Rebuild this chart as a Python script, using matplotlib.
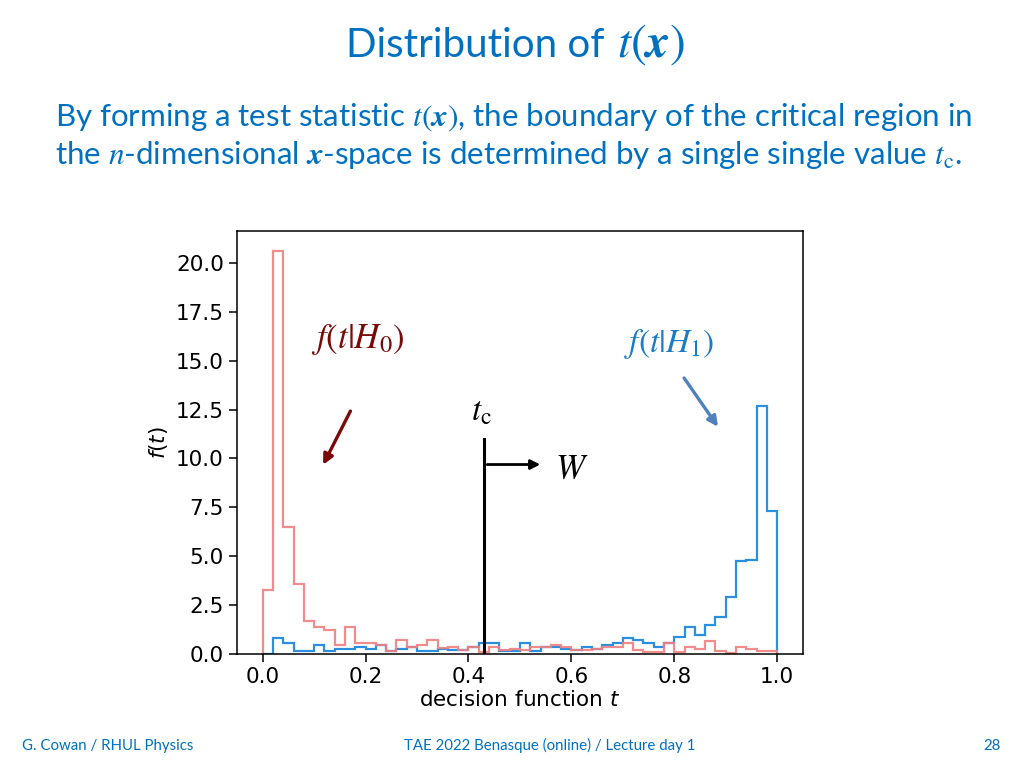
import numpy as np
import matplotlib.pyplot as plt

# histogram contents, 50 bins of width 0.02 between 0 and 1
edges = np.linspace(0.0, 1.0, 51)

f_h0 = [3.25, 20.6, 6.5, 3.6, 1.7, 1.4, 1.25, 0.45, 1.4, 0.55,
        0.55, 0.45, 0.15, 0.7, 0.35, 0.45, 0.7, 0.3, 0.35, 0.2,
        0.37, 0.1, 0.37, 0.2, 0.27, 0.2, 0.34, 0.34, 0.44, 0.34,
        0.2, 0.2, 0.27, 0.34, 0.34, 0.54, 0.2, 0.1, 0.1, 0.54,
        0.12, 0.37, 0.28, 0.68, 0.17, 0.05, 0.37, 0.25, 0.18, 0.18]

f_h1 = [0.0, 0.83, 0.54, 0.17, 0.17, 0.46, 0.17, 0.25, 0.25, 0.37,
        0.25, 0.46, 0.17, 0.25, 0.34, 0.17, 0.17, 0.25, 0.2, 0.2,
        0.34, 0.54, 0.54, 0.17, 0.17, 0.54, 0.17, 0.34, 0.34, 0.27,
        0.2, 0.34, 0.27, 0.44, 0.54, 0.83, 0.71, 0.58, 0.37, 0.54,
        0.85, 1.36, 0.97, 1.48, 1.87, 2.92, 4.74, 4.83, 12.67, 7.3]

t_cut = 0.431

blue = '#0070C0'
sans = ['Lato', 'DejaVu Sans']

fig = plt.figure(figsize=(10.24, 7.68), dpi=100)

# slide title and text
fig.text(0.590, 0.926, 'Distribution of', ha='right', va='baseline',
         fontsize=29, color=blue, family=sans)
fig.text(0.603, 0.926, r'$t(\boldsymbol{x})$', ha='left', va='baseline',
         fontsize=34, color=blue, math_fontfamily='stix')
fig.text(0.054, 0.848, r'By forming a test statistic $t(\boldsymbol{x})$, the boundary of the critical region in',
         ha='left', va='center', fontsize=22.5, color=blue, family=sans, math_fontfamily='stix')
fig.text(0.054, 0.798, r'the $n$-dimensional $\boldsymbol{x}$-space is determined by a single single value $t_{\mathrm{c}}$.',
         ha='left', va='center', fontsize=22.5, color=blue, family=sans, math_fontfamily='stix')

# footer
fig.text(0.021, 0.029, 'G. Cowan / RHUL Physics', ha='left', va='center', fontsize=10.8, color=blue, family=sans)
fig.text(0.537, 0.029, 'TAE 2022 Benasque (online) / Lecture day 1', ha='center', va='center',
         fontsize=10.8, color=blue, family=sans)
fig.text(0.969, 0.029, '28', ha='center', va='center', fontsize=10.8, color=blue, family=sans)

# the histogram plot
ax = fig.add_axes([0.2314, 0.1484, 0.5527, 0.5508])
ax.stairs(f_h1, edges, color='#2b8fe0', linewidth=1.6, baseline=0)
ax.stairs(f_h0, edges, color='#f08080', linewidth=1.6, baseline=0, alpha=0.9)
ax.set_xlim(-0.05, 1.05)
ax.set_ylim(0, max(f_h0) * 1.05)
ax.set_xticks([0.0, 0.2, 0.4, 0.6, 0.8, 1.0])
ax.set_yticks(np.arange(0, 20.1, 2.5))
ax.tick_params(labelsize=15.5, length=6, width=1.1)
ax.set_xlabel('decision function $t$', fontsize=15.5, labelpad=2)
ax.set_ylabel('$f(t)$', fontsize=15.5)
for s in ax.spines.values():
    s.set_linewidth(1.1)

# critical value and critical region
ax.plot([t_cut, t_cut], [0, 11.0], color='black', linewidth=2.2)
ax.annotate('', xy=(0.545, 9.69), xytext=(t_cut, 9.69),
            arrowprops=dict(arrowstyle='-|>', color='black', lw=2, mutation_scale=14))
ax.text(0.425, 12.45, r'$t_{\mathrm{c}}$', ha='center', va='center', fontsize=24, math_fontfamily='stix')
ax.text(0.60, 9.49, r'$W$', ha='center', va='center', fontsize=25, math_fontfamily='stix')

# labels for the two pdfs
ax.text(0.184, 16.1, r'$f(t|H_0)$', ha='center', va='center', fontsize=25, color='#7a0a0a',
        math_fontfamily='stix')
ax.annotate('', xy=(0.115, 9.55), xytext=(0.173, 12.55),
            arrowprops=dict(arrowstyle='-|>', color='#7a0a0a', lw=2.4, mutation_scale=15))
ax.text(0.79, 15.87, r'$f(t|H_1)$', ha='center', va='center', fontsize=24, color='#1a7cc4',
        math_fontfamily='stix')
ax.annotate('', xy=(0.888, 11.5), xytext=(0.816, 14.23),
            arrowprops=dict(arrowstyle='-|>', color='#4f81bd', lw=2.4, mutation_scale=15))

fig.savefig('out.png', dpi=100)
